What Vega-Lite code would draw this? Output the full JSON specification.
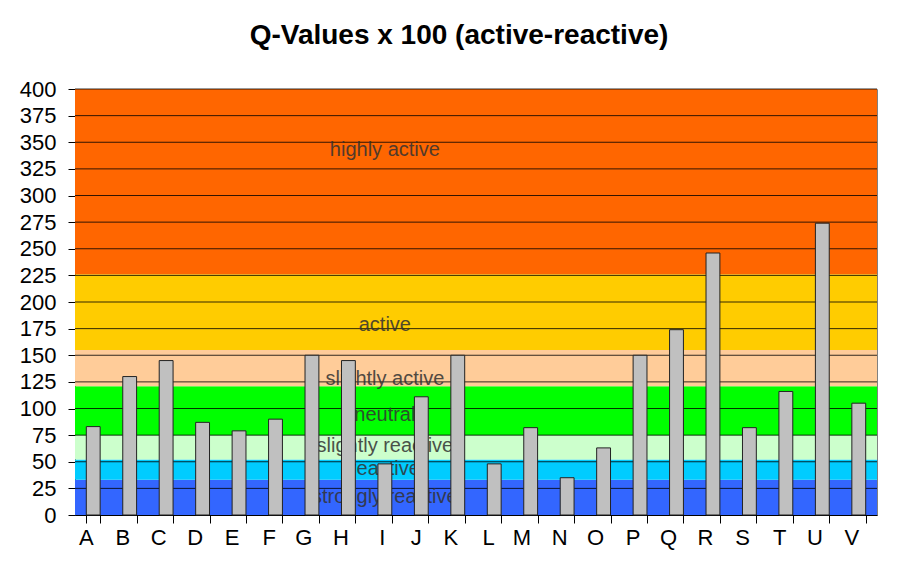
{
  "$schema": "https://vega.github.io/schema/vega-lite/v6.json",
  "width": 802,
  "height": 426,
  "autosize": {"type": "none"},
  "padding": {"left": 75, "top": 89, "right": 24, "bottom": 61},
  "background": "white",
  "title": {
    "text": "Q-Values x 100 (active-reactive)",
    "font": "Liberation Sans",
    "fontSize": 28,
    "fontWeight": "bold",
    "color": "#000000",
    "anchor": "middle",
    "offset": 28,
    "dx": -17
  },
  "config": {
    "view": {"stroke": "#808080", "strokeWidth": 1},
    "axis": {
      "labelFont": "Liberation Sans",
      "labelFontSize": 22,
      "labelColor": "#000000",
      "domainColor": "#000000",
      "tickColor": "#000000",
      "grid": false,
      "title": null,
      "labelOverlap": false
    }
  },
  "datasets": {
    "bars": [
      {"cat": "A", "q": 83}, {"cat": "B", "q": 130}, {"cat": "C", "q": 145},
      {"cat": "D", "q": 87}, {"cat": "E", "q": 79}, {"cat": "F", "q": 90},
      {"cat": "G", "q": 150}, {"cat": "H", "q": 145}, {"cat": "I", "q": 48},
      {"cat": "J", "q": 111}, {"cat": "K", "q": 150}, {"cat": "L", "q": 48},
      {"cat": "M", "q": 82}, {"cat": "N", "q": 35}, {"cat": "O", "q": 63},
      {"cat": "P", "q": 150}, {"cat": "Q", "q": 174}, {"cat": "R", "q": 246},
      {"cat": "S", "q": 82}, {"cat": "T", "q": 116}, {"cat": "U", "q": 274},
      {"cat": "V", "q": 105}
    ],
    "bands": [
      {"zone": "strongly reactive", "lo": 0, "hi": 33, "ly": 17},
      {"zone": "reactive", "lo": 33, "hi": 52, "ly": 43},
      {"zone": "slightly reactive", "lo": 52, "hi": 75, "ly": 65},
      {"zone": "neutral", "lo": 75, "hi": 121, "ly": 94},
      {"zone": "slightly active", "lo": 121, "hi": 155, "ly": 128},
      {"zone": "active", "lo": 155, "hi": 226, "ly": 178},
      {"zone": "highly active", "lo": 226, "hi": 400, "ly": 343}
    ],
    "grid": [
      {"g": 25}, {"g": 50}, {"g": 75}, {"g": 100}, {"g": 125}, {"g": 150},
      {"g": 175}, {"g": 200}, {"g": 225}, {"g": 250}, {"g": 275}, {"g": 300},
      {"g": 325}, {"g": 350}, {"g": 375}, {"g": 400}
    ]
  },
  "layer": [
    {
      "data": {"name": "bands"},
      "mark": {"type": "rect"},
      "encoding": {
        "y": {
          "field": "lo",
          "type": "quantitative",
          "scale": {"domain": [0, 400], "nice": false},
          "axis": {
            "values": [0, 25, 50, 75, 100, 125, 150, 175, 200, 225, 250, 275, 300, 325, 350, 375, 400],
            "tickSize": 7,
            "labelPadding": 12,
            "labelBaseline": "middle",
            "labelOverlap": false
          }
        },
        "y2": {"field": "hi"},
        "color": {
          "field": "zone",
          "type": "nominal",
          "legend": null,
          "scale": {
            "domain": ["strongly reactive", "reactive", "slightly reactive", "neutral", "slightly active", "active", "highly active"],
            "range": ["#3366FF", "#00CCFF", "#CCFFCC", "#00FF00", "#FFCC99", "#FFCC00", "#FF6600"]
          }
        }
      }
    },
    {
      "data": {"name": "grid"},
      "mark": {"type": "rule", "color": "#000000", "strokeWidth": 1, "opacity": 0.8},
      "encoding": {
        "y": {
          "field": "g",
          "type": "quantitative",
          "axis": {
            "values": [0, 25, 50, 75, 100, 125, 150, 175, 200, 225, 250, 275, 300, 325, 350, 375, 400],
            "tickSize": 7,
            "labelPadding": 12,
            "labelBaseline": "middle",
            "labelOverlap": false
          }
        }
      }
    },
    {
      "data": {"name": "bands"},
      "mark": {
        "type": "text",
        "font": "Liberation Sans",
        "fontSize": 20,
        "color": "#333333",
        "opacity": 0.85,
        "align": "center",
        "baseline": "middle"
      },
      "encoding": {
        "x": {"datum": "I", "type": "nominal"},
        "y": {
          "field": "ly",
          "type": "quantitative",
          "axis": {
            "values": [0, 25, 50, 75, 100, 125, 150, 175, 200, 225, 250, 275, 300, 325, 350, 375, 400],
            "tickSize": 7,
            "labelPadding": 12,
            "labelBaseline": "middle",
            "labelOverlap": false
          }
        },
        "text": {"field": "zone"}
      }
    },
    {
      "data": {"name": "bars"},
      "mark": {"type": "bar", "color": "#C0C0C0", "stroke": "#222222", "strokeWidth": 1},
      "encoding": {
        "x": {
          "field": "cat",
          "type": "nominal",
          "sort": null,
          "scale": {
            "domain": ["A","B","C","D","E","F","G","H","I","J","K","L","M","N","O","P","Q","R","S","T","U","V"],
            "paddingInner": 0.62,
            "paddingOuter": 0.31
          },
          "axis": {
            "labelAngle": 0,
            "tickBand": "extent",
            "tickSize": 8,
            "labelPadding": 14,
            "domainWidth": 1
          }
        },
        "y": {
          "field": "q",
          "type": "quantitative",
          "scale": {"domain": [0, 400], "nice": false},
          "axis": {
            "values": [0, 25, 50, 75, 100, 125, 150, 175, 200, 225, 250, 275, 300, 325, 350, 375, 400],
            "tickSize": 7,
            "labelPadding": 12,
            "labelBaseline": "middle",
            "labelOverlap": false
          }
        }
      }
    }
  ]
}
